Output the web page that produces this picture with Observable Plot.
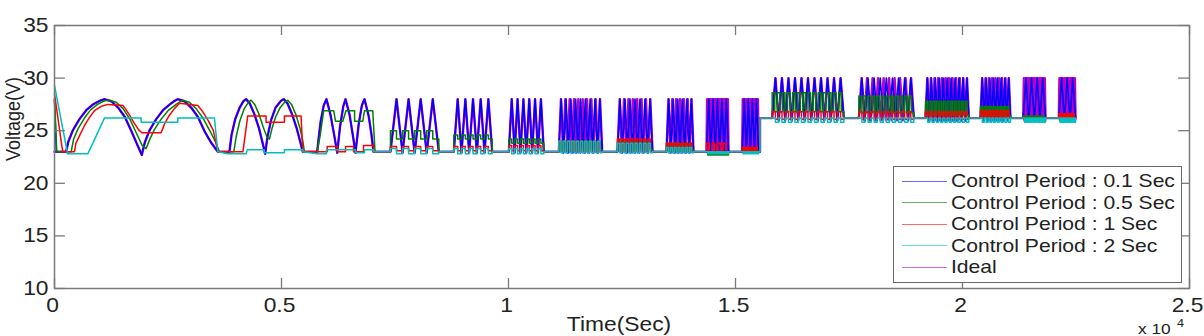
<!DOCTYPE html>
<html>
<head>
<meta charset="utf-8">
<script src="https://cdn.jsdelivr.net/npm/d3@7"></script>
<script src="https://cdn.jsdelivr.net/npm/@observablehq/plot@0.6"></script>
<style>
  html, body { margin: 0; padding: 0; background: #fff; overflow: hidden; }
  #wrap { position: relative; width: 1204px; height: 336px; overflow: hidden; font-family: "Liberation Sans", Arial, sans-serif; }
  #legend { position: absolute; left: 893px; top: 166px; width: 289px; height: 117px; border: 1.5px solid #6a6a6a; background: #fff; box-sizing: border-box; }
  .row { position: absolute; left: 0; height: 22px; display: flex; align-items: center; }
  .swatch { width: 45px; height: 1px; margin-left: 8px; margin-right: 4px; opacity: 0.6; }
  .label { font-size: 18.5px; color: #222; transform: scaleX(1.14); transform-origin: left center; white-space: nowrap; }
  .exp { position: absolute; color: #222; line-height: 1; white-space: nowrap; transform: scaleX(1.15); transform-origin: left top; }
  #expBase { left: 1138px; top: 321px; font-size: 15px; }
  #expPow { left: 1177px; top: 318px; font-size: 11px; }
</style>
</head>
<body>
<div id="wrap"></div>
<script>
// Series shown in the legend, in legend order
const seriesNames = ["Control Period : 0.1 Sec", "Control Period : 0.5 Sec", "Control Period : 1 Sec", "Control Period : 2 Sec", "Ideal"];
const seriesColors = ["#0000ff", "#008000", "#ff0000", "#00bfbf", "#bf00bf"];

const xTicks = [0, 5000, 10000, 15000, 20000, 25000];
const yTicks = [10, 15, 20, 25, 30, 35];

// Opening cycles (t in s, V), traced point by point
const earlyIdeal = [
  [0, 23], [257, 23], [300, 23.9], [400, 25.0], [550, 26.1], [700, 26.95], [850, 27.5], [1000, 27.85], [1100, 28.0],
  [1250, 27.8], [1400, 27.2], [1550, 26.3], [1700, 24.9], [1820, 23.7], [1923, 22.7],
  [1990, 23.9], [2090, 25.0], [2240, 26.1], [2390, 26.95], [2540, 27.5], [2650, 27.85], [2716, 28.0],
  [2860, 27.8], [3010, 27.2], [3160, 26.3], [3310, 24.9], [3460, 23.8], [3597, 23.0],
  [3853, 23.0], [3900, 24.6], [3980, 26.1], [4080, 27.2], [4160, 27.8], [4220, 28.0],
  [4300, 27.6], [4400, 26.6], [4500, 25.3], [4580, 23.9], [4640, 22.8],
  [4690, 24.4], [4770, 26.0], [4870, 27.2], [4990, 27.85], [5050, 28.0],
  [5130, 27.6], [5230, 26.6], [5330, 25.3], [5410, 24.0], [5468, 23.0],
  [5785, 23.0], [5860, 25.8], [5930, 27.4], [5990, 28.0], [6080, 26.5], [6160, 24.6], [6227, 22.9],
  [6290, 25.4], [6360, 27.3], [6410, 28.0], [6500, 26.5], [6570, 24.6], [6630, 22.9],
  [6700, 25.6], [6770, 27.4], [6828, 28.0], [6920, 26.4], [6980, 24.7], [7026, 23.0]
];
const earlyBlue = [[0, 28.0], [40, 23.0]].concat(earlyIdeal.slice(1));
const earlyGreen = [
  [0, 28.0], [50, 23.0], [367, 23.0], [420, 24.2], [520, 25.2], [660, 26.2], [800, 27.0], [950, 27.5], [1100, 27.85], [1211, 27.9],
  [1360, 27.7], [1510, 27.1], [1660, 26.1], [1800, 24.8], [1930, 23.6], [2018, 23.3],
  [2100, 24.2], [2200, 25.1], [2350, 26.1], [2500, 26.9], [2650, 27.4], [2760, 27.75], [2826, 27.9],
  [2970, 27.7], [3120, 27.1], [3270, 26.2], [3420, 25.0], [3550, 23.9], [3633, 23.0],
  [3950, 23.0], [4000, 24.4], [4080, 25.9], [4180, 27.1], [4270, 27.7], [4330, 27.9],
  [4410, 27.5], [4510, 26.5], [4600, 25.3], [4680, 24.4], [4734, 24.2],
  [4790, 25.2], [4870, 26.3], [4970, 27.2], [5080, 27.75], [5138, 27.9],
  [5220, 27.5], [5320, 26.5], [5410, 25.2], [5470, 24.0], [5505, 23.0],
  [5785, 23.0], [5850, 24.5], [5930, 26.9], [6150, 26.9], [6190, 25.9], [6350, 25.9], [6420, 26.9], [6610, 26.9],
  [6610, 25.9], [6790, 25.9], [6830, 26.9], [7010, 26.9], [7060, 23.0]
];
const earlyRed = [
  [0, 28.5], [180, 23.0], [440, 23.0], [470, 23.8], [560, 24.6], [650, 25.4], [760, 26.2], [880, 26.9], [1020, 27.3], [1174, 27.5],
  [1505, 27.4], [1560, 27.1], [1650, 26.5], [1760, 25.7], [1850, 25.1], [1923, 24.8], [2349, 24.8],
  [2420, 25.6], [2520, 26.4], [2640, 27.1], [2753, 27.6], [3156, 27.4], [3250, 26.9], [3380, 26.0], [3500, 25.0], [3597, 23.0],
  [4150, 23.0], [4257, 26.4], [4660, 26.4], [4660, 25.8], [5064, 25.8], [5064, 26.4], [5431, 26.4], [5468, 23.0],
  [6007, 23.0], [6007, 23.5], [6227, 23.5], [6227, 23.0], [6410, 23.0], [6410, 23.5], [6586, 23.5], [6586, 23.0],
  [6806, 23.0], [6806, 23.6], [7026, 23.6], [7026, 23.0]
];
const earlyCyan = [
  [0, 29.3], [280, 23.0], [280, 22.8], [734, 22.8], [1100, 26.2], [1908, 26.2], [1908, 25.8], [2716, 25.8], [2716, 26.2],
  [3523, 26.2], [3597, 23.0], [3817, 22.8], [4220, 22.8], [4250, 23.2], [4620, 23.2], [4620, 22.9], [5064, 22.9],
  [5064, 23.2], [5468, 23.2], [5468, 23.0], [5785, 22.8], [5990, 22.8], [5990, 23.2], [6630, 23.2], [6630, 22.9],
  [6828, 22.9], [6828, 23.2], [7026, 23.2], [7026, 23.0]
];

// Later switching bursts: window (s) and resting level (V)
const burstStart = [7400, 8796, 10007, 11108, 12401, 13480, 14361, 15147, 15808, 17717, 19185, 20396, 21337, 22122];
const burstEnd   = [8465, 9641, 10778, 12064, 13172, 14075, 14846, 15507, 17386, 18928, 20139, 21057, 21828, 22489];
const burstBase  = [23, 23, 23, 23, 23, 23, 23, 23, 26.2, 26.2, 26.2, 26.2, 26.2, 26.2];
const stepUpAt = 15540;

// Per-series oscillation inside each burst: cycle count, upper and lower level
const cyclesIdeal = [4, 5, 6, 10, 8, 7, 18, 14, 11, 10, 12, 9, 16, 14];
const hiIdeal     = [28, 28, 28, 28, 28, 28, 28, 28, 30, 30, 30, 30, 30, 30];
const loIdeal     = [22.9, 22.9, 22.9, 22.9, 22.9, 22.9, 22.9, 22.9, 26.0, 26.0, 26.0, 26.0, 26.0, 26.0];

const cyclesBlue = [4, 5, 6, 9, 7, 6, 5, 4, 11, 9, 11, 8, 4, 3];
const hiBlue     = [28, 28, 28, 28, 28, 28, 28, 28, 30, 30, 30, 30, 30, 30];
const loBlue     = [22.9, 22.9, 22.9, 22.9, 22.9, 22.9, 22.9, 22.9, 25.9, 25.9, 25.9, 25.9, 25.9, 25.9];

const cyclesGreen = [4, 5, 6, 10, 8, 7, 9, 7, 14, 12, 12, 9, 8, 7];
const hiGreen     = [25.0, 24.6, 24.2, 24.0, 24.0, 23.8, 23.0, 23.2, 28.6, 28.3, 27.8, 27.3, 26.4, 26.4];
const loGreen     = [24.2, 24.2, 23.8, 23.2, 23.2, 23.2, 22.7, 22.9, 26.8, 26.7, 26.5, 26.4, 26.1, 26.1];

const cyclesRed = [4, 5, 6, 10, 8, 7, 4, 7, 11, 9, 10, 8, 8, 7];
const hiRed     = [23.5, 23.5, 23.6, 24.0, 24.2, 23.8, 23.8, 23.4, 26.8, 26.8, 26.8, 26.9, 26.2, 26.6];
const loRed     = [23.1, 23.1, 23.1, 23.0, 23.0, 23.0, 23.0, 23.0, 26.1, 26.1, 26.1, 26.2, 25.9, 26.0];

const cyclesCyan = [4, 5, 6, 10, 8, 7, 9, 7, 11, 9, 10, 8, 8, 7];
const hiCyan     = [23.3, 23.3, 23.3, 24.0, 23.8, 23.4, 23.0, 23.0, 26.2, 26.2, 26.2, 26.2, 26.2, 26.2];
const loCyan     = [22.8, 22.8, 22.8, 22.9, 22.9, 22.9, 22.8, 22.8, 25.8, 25.8, 25.8, 25.8, 25.8, 25.8];

// Join the traced opening with the burst descriptions into one polyline.
// "tri": ramps between levels; "hold": sample-and-hold steps.
function buildSeries(early, cycles, hi, lo, shape) {
  const pts = early.map(([t, v]) => ({t, v}));
  for (let k = 0; k < burstStart.length; k++) {
    const t0 = burstStart[k], t1 = burstEnd[k], base = burstBase[k];
    if (k > 0 && base !== burstBase[k - 1]) {
      pts.push({t: stepUpAt, v: burstBase[k - 1]}, {t: stepUpAt, v: base});
    }
    const n = cycles[k], P = (t1 - t0) / n;
    pts.push({t: t0, v: base});
    for (let i = 0; i < n; i++) {
      const a = t0 + i * P, last = i === n - 1;
      if (shape === "tri") {
        pts.push({t: a + P / 2, v: hi[k]}, {t: a + P, v: last ? base : lo[k]});
      } else {
        pts.push({t: a, v: hi[k]}, {t: a + P / 2, v: hi[k]}, {t: a + P / 2, v: lo[k]}, {t: a + P, v: lo[k]});
        if (last) pts.push({t: t1, v: base});
      }
    }
  }
  return pts;
}

const ideal = buildSeries(earlyIdeal, cyclesIdeal, hiIdeal, loIdeal, "tri");
const blue  = buildSeries(earlyBlue, cyclesBlue, hiBlue, loBlue, "tri");
const green = buildSeries(earlyGreen, cyclesGreen, hiGreen, loGreen, "hold");
const red   = buildSeries(earlyRed, cyclesRed, hiRed, loRed, "hold");
const cyan  = buildSeries(earlyCyan, cyclesCyan, hiCyan, loCyan, "hold");

const fmtX = d => String(d / 1e4);
const tickV = 0.95;   // tick length in volts
const tickT = 240;    // tick length in seconds

const chart = Plot.plot({
  width: 1204,
  height: 336,
  marginLeft: 54,
  marginRight: 15,
  marginTop: 25,
  marginBottom: 48,
  style: {fontFamily: "'Liberation Sans', Arial, sans-serif", fontSize: "20px", color: "#222", background: "#fff", overflow: "visible"},
  x: {domain: [0, 25000]},
  y: {domain: [10, 35]},
  marks: [
    Plot.line(ideal, {x: "t", y: "v", stroke: seriesColors[4], strokeWidth: 2.4}),
    Plot.line(blue,  {x: "t", y: "v", stroke: seriesColors[0], strokeWidth: 1.6}),
    Plot.line(green, {x: "t", y: "v", stroke: seriesColors[1], strokeWidth: 1.5}),
    Plot.line(red,   {x: "t", y: "v", stroke: seriesColors[2], strokeWidth: 1.5}),
    Plot.line(cyan,  {x: "t", y: "v", stroke: seriesColors[3], strokeWidth: 1.5}),
    Plot.frame({stroke: "#7a7a7a", strokeWidth: 1.5}),
    Plot.ruleX(xTicks, {x: d => d, y1: 10, y2: 10 + tickV, stroke: "#7a7a7a", strokeWidth: 1.3}),
    Plot.ruleX(xTicks, {x: d => d, y1: 35 - tickV, y2: 35, stroke: "#7a7a7a", strokeWidth: 1.3}),
    Plot.ruleY(yTicks, {y: d => d, x1: 0, x2: tickT, stroke: "#7a7a7a", strokeWidth: 1.3}),
    Plot.ruleY(yTicks, {y: d => d, x1: 25000 - tickT, x2: 25000, stroke: "#7a7a7a", strokeWidth: 1.3}),
    Plot.axisX({ticks: xTicks, tickFormat: fmtX, tickSize: 0, tickPadding: 9, dx: -2, label: null}),
    Plot.axisY({ticks: yTicks, tickSize: 0, tickPadding: 6, label: null}),
    Plot.text(["Time(Sec)"], {text: d => d, frameAnchor: "bottom", lineAnchor: "top", dy: 28, dx: -3, fontSize: 20}),
    Plot.text(["Voltage(V)"], {text: d => d, frameAnchor: "left", rotate: -90, lineAnchor: "bottom", dx: -35, dy: 4, fontSize: 18})
  ]
});

// Widen glyphs horizontally, as the axis lettering is drawn wide
d3.select(chart).selectAll("text").each(function () {
  const el = d3.select(this);
  const tr = el.attr("transform") || "";
  el.attr("transform", tr + (tr.includes("rotate") ? " scale(1,1.08)" : " scale(1.14,1)"));
});

const wrap = document.getElementById("wrap");
wrap.appendChild(chart);

// Legend box
const legend = document.createElement("div");
legend.id = "legend";
seriesNames.forEach((name, i) => {
  const row = document.createElement("div");
  row.className = "row";
  row.style.top = (3 + i * 21.6) + "px";
  const sw = document.createElement("div");
  sw.className = "swatch";
  sw.style.background = seriesColors[i];
  const lb = document.createElement("span");
  lb.className = "label";
  lb.textContent = name;
  row.appendChild(sw);
  row.appendChild(lb);
  legend.appendChild(row);
});
wrap.appendChild(legend);

// Axis multiplier x 10^4
const expBase = document.createElement("div");
expBase.id = "expBase";
expBase.className = "exp";
expBase.textContent = "x 10";
const expPow = document.createElement("div");
expPow.id = "expPow";
expPow.className = "exp";
expPow.textContent = "4";
wrap.appendChild(expBase);
wrap.appendChild(expPow);
</script>
</body>
</html>
